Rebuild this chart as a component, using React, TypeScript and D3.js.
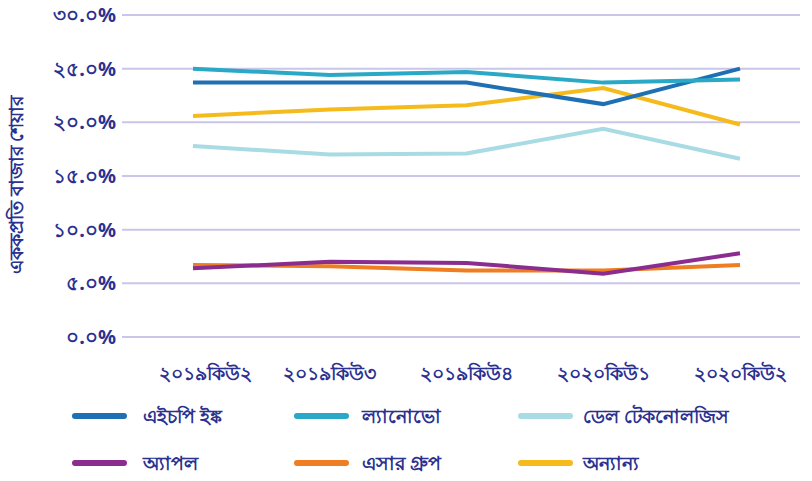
import React, { useEffect, useRef } from "react";
import * as d3 from "d3";

const quarters = ["২০১৯কিউ২", "২০১৯কিউ৩", "২০১৯কিউ৪", "২০২০কিউ১", "২০২০কিউ২"];
const yTicks = [0, 5, 10, 15, 20, 25, 30];
const yTickLabels = ["০.০%", "৫.০%", "১০.০%", "১৫.০%", "২০.০%", "২৫.০%", "৩০.০%"];

const seriesNames = ["এইচপি ইঙ্ক", "ল্যানোভো", "ডেল টেকনোলজিস", "অ্যাপল", "এসার গ্রুপ", "অন্যান্য"];
const seriesColors = ["#1f6fb4", "#2aa9c6", "#a8dbe4", "#8b2d8e", "#ef7d22", "#f5bb1d"];

const hp = [23.7, 23.7, 23.7, 21.7, 25.0];
const lenovo = [25.0, 24.4, 24.7, 23.7, 24.0];
const dell = [17.8, 17.0, 17.1, 19.4, 16.6];
const apple = [6.4, 7.0, 6.9, 5.9, 7.8];
const acer = [6.7, 6.6, 6.2, 6.2, 6.7];
const others = [20.6, 21.2, 21.6, 23.2, 19.8];

const seriesValues = [hp, lenovo, dell, apple, acer, others];

const W = 812;
const H = 481;
const textColor = "#2b3190";
const font = "'Noto Sans', 'DejaVu Sans', sans-serif";

export default function App() {
    const ref = useRef(null);

    useEffect(() => {
        const svg = d3.select(ref.current);
        svg.selectAll("*").remove();

        const x = d3.scalePoint<string>().domain(quarters).range([193, 740]);
        const y = d3.scaleLinear().domain([0, 30]).range([337, 15]);

        // grid lines
        svg.append("g")
            .selectAll("line")
            .data(yTicks)
            .enter()
            .append("line")
            .attr("x1", 122)
            .attr("x2", 800)
            .attr("y1", d => y(d))
            .attr("y2", d => y(d))
            .style("stroke", "#c9c6ea")
            .style("stroke-width", 2);

        // y tick labels
        svg.append("g")
            .selectAll("text")
            .data(yTicks)
            .enter()
            .append("text")
            .attr("x", 116)
            .attr("y", d => y(d))
            .attr("dy", "0.35em")
            .attr("text-anchor", "end")
            .style("font-family", font)
            .style("font-size", "20px")
            .style("font-weight", "bold")
            .style("fill", textColor)
            .text((d, i) => yTickLabels[i]);

        // y title
        svg.append("text")
            .attr("transform", "translate(23,185) rotate(-90)")
            .attr("text-anchor", "middle")
            .style("font-family", font)
            .style("font-size", "19px")
            .style("font-weight", "bold")
            .style("fill", textColor)
            .text("এককপ্রতি বাজার শেয়ার");

        // x labels
        svg.append("g")
            .selectAll("text")
            .data(quarters)
            .enter()
            .append("text")
            .attr("x", (d, i) => (x(d) as number) + (i === 0 ? 12 : 0))
            .attr("y", 380)
            .attr("text-anchor", "middle")
            .style("font-family", font)
            .style("font-size", "19px")
            .style("font-weight", "bold")
            .style("fill", textColor)
            .text(d => d);

        // lines
        const line = d3.line<number>()
            .x((d, i) => x(quarters[i]) as number)
            .y(d => y(d));

        const order = [4, 3, 2, 5, 0, 1];
        svg.append("g")
            .selectAll("path")
            .data(order)
            .enter()
            .append("path")
            .attr("d", k => line(seriesValues[k]))
            .style("fill", "none")
            .style("stroke", k => seriesColors[k])
            .style("stroke-width", 4);

        // legend
        const cols = [75, 297, 521];
        const textOffset = [68, 65, 62];
        const rows = [416, 463];
        const legend = svg.append("g")
            .selectAll("g")
            .data(seriesNames)
            .enter()
            .append("g")
            .attr("transform", (d, i) => `translate(${cols[i % 3]},${rows[Math.floor(i / 3)]})`);

        legend.append("line")
            .attr("x1", 0)
            .attr("x2", 49)
            .style("stroke", (d, i) => seriesColors[i])
            .style("stroke-width", 6)
            .style("stroke-linecap", "round");

        legend.append("text")
            .attr("x", (d, i) => textOffset[i % 3])
            .attr("dy", "0.35em")
            .style("font-family", font)
            .style("font-size", "19px")
            .style("font-weight", "bold")
            .style("fill", textColor)
            .text(d => d);
    }, []);

    return (
        <svg ref={ref} width={W} height={H}
             style={{position: "absolute", left: 0, top: 0, background: "#fff"}}/>
    );
}
